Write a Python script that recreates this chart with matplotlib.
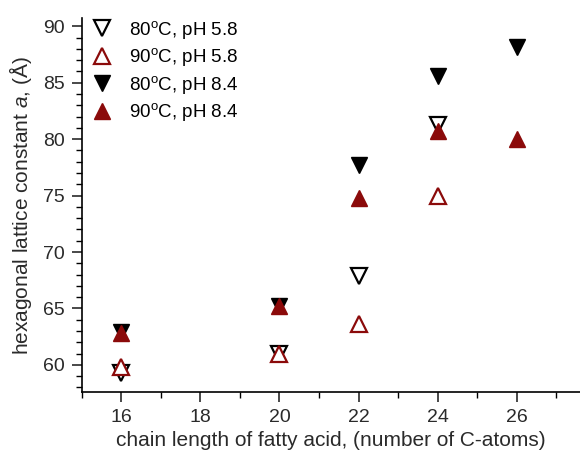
import numpy as np
import matplotlib.pyplot as plt
from matplotlib.ticker import MultipleLocator

plt.rcParams['font.family'] = ['Liberation Sans', 'DejaVu Sans']
plt.rcParams['mathtext.fontset'] = 'custom'
plt.rcParams['mathtext.rm'] = 'Liberation Sans'
plt.rcParams['mathtext.it'] = 'Liberation Sans:italic'

# lattice constant a (Angstrom) vs chain length
c_low = [16, 20, 22, 24]
a80_ph58 = [59.3, 61.0, 67.9, 81.3]
a90_ph58 = [59.8, 61.0, 63.6, 75.0]
c_high = [16, 20, 22, 24, 26]
a80_ph84 = [62.9, 65.2, 77.7, 85.6, 88.2]
a90_ph84 = [62.8, 65.2, 74.8, 80.7, 80.0]

dred = "#8b0a0a"
txt = "#2a2a2a"

fig = plt.figure(figsize=(5.8, 4.5), dpi=100)
ax = fig.add_axes([0.141, 0.129, 0.859, 0.83])

ms = 12
ax.plot(c_low, a80_ph58, "v", ms=ms, mfc="white", mec="black", mew=1.6,
        ls="none", label="80$^{\\rm o}$C, pH 5.8")
ax.plot(c_low, a90_ph58, "^", ms=ms, mfc="white", mec=dred, mew=1.6,
        ls="none", label="90$^{\\rm o}$C, pH 5.8")
ax.plot(c_high, a80_ph84, "v", ms=ms, mfc="black", mec="black",
        ls="none", label="80$^{\\rm o}$C, pH 8.4")
ax.plot(c_high, a90_ph84, "^", ms=ms, mfc=dred, mec=dred,
        ls="none", label="90$^{\\rm o}$C, pH 8.4")

ax.set_xlim(15.0, 27.6)
ax.set_ylim(57.6, 90.7)
ax.xaxis.set_major_locator(MultipleLocator(2))
ax.xaxis.set_minor_locator(MultipleLocator(1))
ax.yaxis.set_major_locator(MultipleLocator(5))
ax.yaxis.set_minor_locator(MultipleLocator(1))
ax.tick_params(which="major", direction="out", length=7, width=1.2,
               labelsize=14, colors=txt, pad=5)
ax.tick_params(which="minor", direction="out", length=4, width=1.0)
for s in ["top", "right"]:
    ax.spines[s].set_visible(False)
for s in ["left", "bottom"]:
    ax.spines[s].set_linewidth(1.2)

ax.set_xlabel("chain length of fatty acid, (number of C-atoms)",
              fontsize=15, color=txt, labelpad=4)
ax.set_ylabel("hexagonal lattice constant $a$, (Å)",
              fontsize=15, color=txt, labelpad=7)

ax.legend(loc="upper left", bbox_to_anchor=(-0.015, 1.035), frameon=False,
          fontsize=13.5, handletextpad=0.6, labelspacing=0.3,
          borderaxespad=0.3, handlelength=1.6)

fig.savefig("out.png", dpi=100)
